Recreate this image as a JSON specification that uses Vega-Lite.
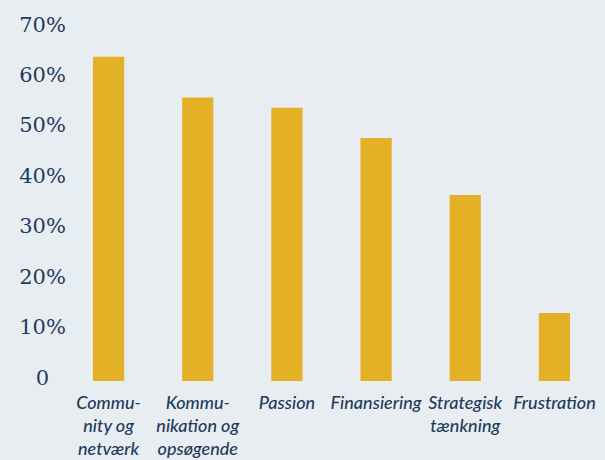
{
  "$schema": "https://vega.github.io/schema/vega-lite/v6.json",
  "width": 535,
  "height": 353,
  "autosize": {"type": "none"},
  "padding": {"left": 64, "top": 28, "right": 6, "bottom": 79},
  "background": "#e8edf2",
  "config": {"view": {"stroke": null}},
  "data": {
    "values": [
      {"kategori": "Commu-\nnity og\nnetværk", "andel": 0.643},
      {"kategori": "Kommu-\nnikation og\nopsøgende", "andel": 0.562},
      {"kategori": "Passion", "andel": 0.542},
      {"kategori": "Finansiering", "andel": 0.482},
      {"kategori": "Strategisk\ntænkning", "andel": 0.369},
      {"kategori": "Frustration", "andel": 0.135}
    ]
  },
  "mark": {"type": "bar", "color": "#e4b025"},
  "encoding": {
    "x": {
      "field": "kategori",
      "type": "nominal",
      "sort": null,
      "scale": {"paddingInner": 0.65, "paddingOuter": 0.325},
      "axis": {
        "title": null,
        "domain": false,
        "ticks": false,
        "labelAngle": 0,
        "labelExpr": "split(datum.value, '\\n')",
        "labelFont": "Lato",
        "labelFontStyle": "italic",
        "labelFontWeight": 500,
        "labelFontSize": 18,
        "labelLineHeight": 23,
        "labelColor": "#1f3b5c",
        "labelPadding": 13,
        "labelBaseline": "top"
      }
    },
    "y": {
      "field": "andel",
      "type": "quantitative",
      "scale": {"domain": [0, 0.7]},
      "axis": {
        "title": null,
        "domain": false,
        "ticks": false,
        "grid": false,
        "values": [0, 0.1, 0.2, 0.3, 0.4, 0.5, 0.6, 0.7],
        "labelExpr": "datum.value == 0 ? '0' : format(datum.value, '.0%')",
        "labelFont": "DejaVu Serif",
        "labelFontSize": 21,
        "labelColor": "#1f3b5c",
        "labelAlign": "center",
        "labelPadding": 22,
        "labelOffset": -3
      }
    }
  }
}
